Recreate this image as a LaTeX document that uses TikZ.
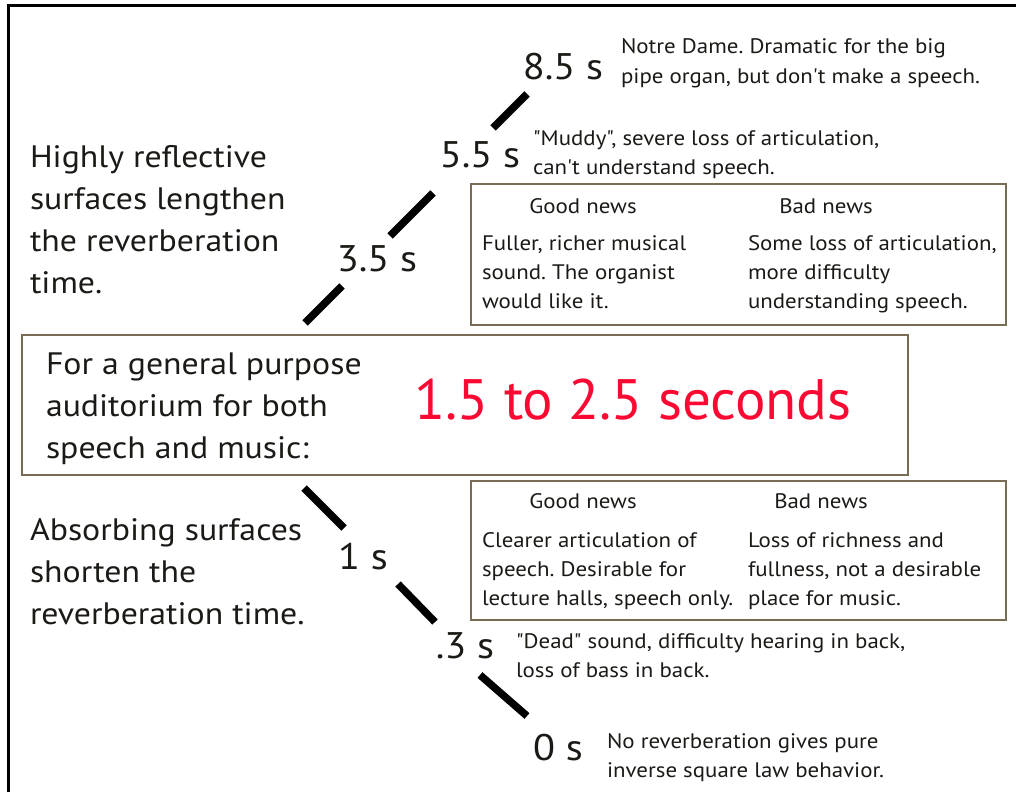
\documentclass[tikz,border=0pt]{standalone}
\usepackage{fontspec}
\setmainfont{PT Sans}[Ligatures=TeXOff]
\newfontfamily\widesans{PT Sans}[Ligatures=TeXOff,FakeStretch=1.09]
\usepackage{xcolor}
\definecolor{boxline}{RGB}{120,108,85}
\definecolor{hotred}{RGB}{250,10,50}
\definecolor{ink}{RGB}{28,26,22}
\frenchspacing

\begin{document}
\begin{tikzpicture}[x=1pt,y=-1pt,every node/.style={text=ink,inner sep=0pt,outer sep=0pt},
	seg/.style={line width=7.5pt},
	panel/.style={draw=boxline,line width=2.5pt,anchor=north west},
	big/.style={font=\widesans\fontsize{31}{42}\selectfont,align=left,anchor=base west},
	time/.style={font=\widesans\fontsize{37}{42}\selectfont},
	small/.style={font=\widesans\fontsize{21}{29}\selectfont,align=left,anchor=base west},
	head/.style={font=\widesans\fontsize{21}{29}\selectfont,anchor=base}]
	\useasboundingbox (0,0) rectangle (1016,792);
	\draw[line width=3pt] (8,792) -- (8,6) -- (1016,6);

	\node[big] (reflect) at (30,293) {Highly reflective\\surfaces lengthen\\the reverberation\\time.};
	\node[big] (absorb) at (30,624) {Absorbing surfaces\\shorten the\\reverberation time.};

	\node[panel,minimum width=886pt,minimum height=140pt] (main) at (22,335) {};
	\node[big] (purpose) at (46,458) {For a general purpose\\auditorium for both\\speech and music:};
	\node[font=\fontsize{57}{60}\selectfont,text=hotred] (range) at (633,400) {1.5 to 2.5 seconds};

	\node[time] (t85) at (563,67) {8.5 s};
	\node[time] (t55) at (480,155) {5.5 s};
	\node[time] (t35) at (377,259) {3.5 s};
	\node[time] (t1) at (363,557) {1 s};
	\node[time] (t03) at (465,646) {.3 s};
	\node[time] (t0) at (558,748) {0 s};

	\draw[seg] (305,323) -- (342,286);
	\draw[seg] (390,236) -- (433,193);
	\draw[seg] (493,128) -- (527,94);
	\draw[seg] (304,488) -- (344,528);
	\draw[seg] (398,584) -- (435,622);
	\draw[seg] (480,675) -- (527,716);

	\node[small] (notre) at (621,83) {Notre Dame. Dramatic for the big\\pipe organ, but don't make a speech.};
	\node[small] (muddy) at (533,174) {"Muddy", severe loss of articulation,\\can't understand speech.};
	\node[small] (dead) at (516,677) {"Dead" sound, difficulty hearing in back,\\loss of bass in back.};
	\node[small] (norev) at (607,777) {No reverberation gives pure\\inverse square law behavior.};

	\node[panel,minimum width=535pt,minimum height=141pt] (longer) at (471,184) {};
	\node[head] (goodA) at (583,213) {Good news};
	\node[head] (badA) at (826,213) {Bad news};
	\node[small] (goodAtxt) at (482,308) {Fuller, richer musical\\sound. The organist\\would like it.};
	\node[small] (badAtxt) at (748,308) {Some loss of articulation,\\more difficulty\\understanding speech.};

	\node[panel,minimum width=535pt,minimum height=139pt] (shorter) at (471,481) {};
	\node[head] (goodB) at (583,508) {Good news};
	\node[head] (badB) at (821,508) {Bad news};
	\node[small] (goodBtxt) at (482,605) {Clearer articulation of\\speech. Desirable for\\lecture halls, speech only.};
	\node[small] (badBtxt) at (748,605) {Loss of richness and\\fullness, not a desirable\\place for music.};
\end{tikzpicture}
\end{document}
